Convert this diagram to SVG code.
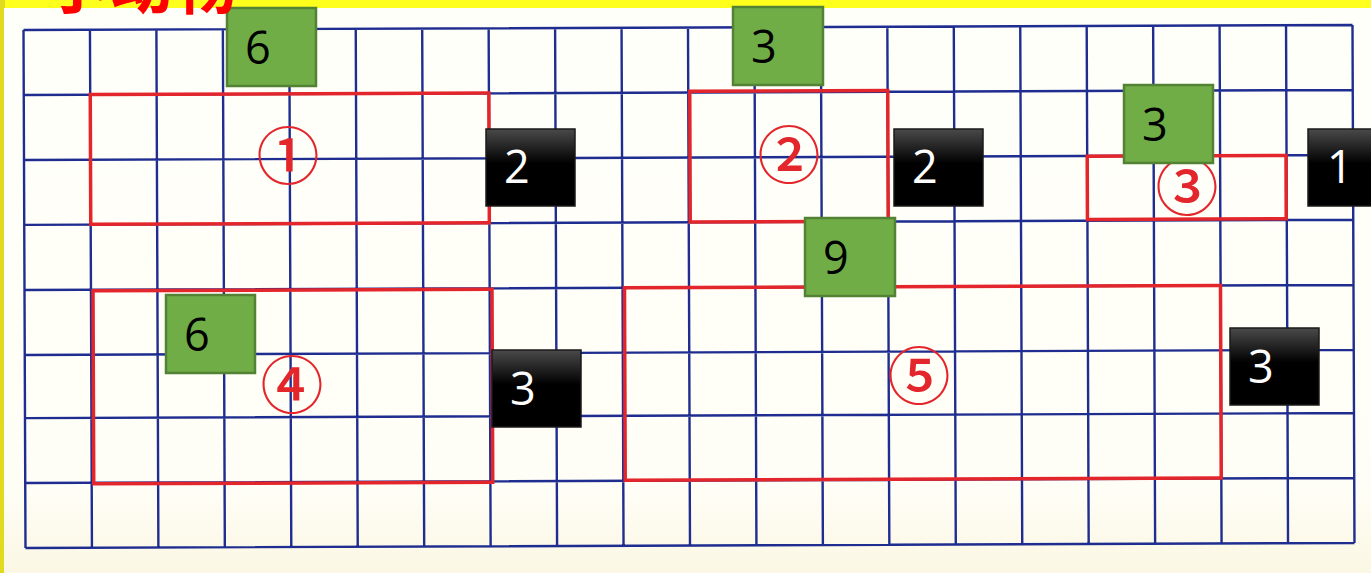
<svg xmlns="http://www.w3.org/2000/svg" width="1371" height="573" viewBox="0 0 1371 573">
  <style>
    .grid { fill: none; stroke: #1E2D8F; stroke-width: 2.4; }
    .area { fill: none; stroke: #E3262B; stroke-width: 3.5; }
    .circ { font-family: "Noto Sans CJK SC", "DejaVu Sans", sans-serif; font-size: 63px; font-weight: 500; fill: #E3262B; text-anchor: middle; }
    .g rect { fill: #70AD47; stroke: #548235; stroke-width: 2.5; }
    .b rect { fill: url(#blk); stroke: #1a1a1a; stroke-width: 1.5; }
    .g text { font-family: "Open Sans", "Liberation Sans", sans-serif; font-size: 45px; fill: #000; }
    .b text { font-family: "Open Sans", "Liberation Sans", sans-serif; font-size: 45px; fill: #fff; }
    .title { font-family: "Noto Sans CJK SC", sans-serif; font-size: 64px; font-weight: bold; fill: #FF0000; }
  </style>
  <defs>
    <linearGradient id="blk" x1="0" y1="0" x2="0" y2="1">
      <stop offset="0" stop-color="#4a4a4a"/>
      <stop offset="0.45" stop-color="#000"/>
      <stop offset="1" stop-color="#000"/>
    </linearGradient>
    <linearGradient id="paper" x1="0" y1="0" x2="0" y2="1">
      <stop offset="0" stop-color="#FFFFFA"/>
      <stop offset="0.85" stop-color="#FFFEF6"/>
      <stop offset="1" stop-color="#FBF7E4"/>
    </linearGradient>
  </defs>

  <!-- background -->
  <rect x="0" y="0" width="1371" height="573" fill="#FFFF1E"/>
  <rect x="0" y="0" width="5" height="573" fill="#E2DA1E"/>
  <rect x="4" y="8" width="1367" height="565" fill="url(#paper)"/>

  <!-- paper: grid and areas (slightly rotated scan) -->
  <g id="paper-grid" transform="rotate(-0.22 688 289)">
    <path class="grid" d="M24.5 27.5V545.5 M90.95 27.5V545.5 M157.4 27.5V545.5 M223.85 27.5V545.5 M290.3 27.5V545.5 M356.75 27.5V545.5 M423.2 27.5V545.5 M489.65 27.5V545.5 M556.1 27.5V545.5 M622.55 27.5V545.5 M689 27.5V545.5 M755.45 27.5V545.5 M821.9 27.5V545.5 M888.35 27.5V545.5 M954.8 27.5V545.5 M1021.25 27.5V545.5 M1087.7 27.5V545.5 M1154.15 27.5V545.5 M1220.6 27.5V545.5 M1287.05 27.5V545.5 M1353.5 27.5V545.5 M24.5 27.5H1353.5 M24.5 92.5H1353.5 M24.5 157.5H1353.5 M24.5 222.3H1353.5 M24.5 287.5H1353.5 M24.5 352.4H1353.5 M24.5 415.6H1353.5 M24.5 480.5H1353.5 M24.5 545.5H1353.5"/>
    <rect id="area1" class="area" x="91" y="92.3" width="398.6" height="129.7"/>
    <rect id="area2" class="area" x="690.5" y="91.3" width="198" height="130.7"/>
    <rect id="area3" class="area" x="1087.7" y="157.8" width="198.8" height="63.2"/>
    <rect id="area4" class="area" x="93" y="288.5" width="399" height="193"/>
    <rect id="area5" class="area" x="624.5" y="287.5" width="596" height="192.5"/>
  </g>

  <!-- circled numbers -->
  <g id="numbers">
    <text class="circ" x="288" y="179">①</text>
    <text class="circ" x="789" y="178">②</text>
    <text class="circ" x="1187" y="210">③</text>
    <text class="circ" x="292" y="408">④</text>
    <text class="circ" x="919" y="399">⑤</text>
  </g>

  <!-- length labels -->
  <g id="label-g1" class="g"><rect x="227" y="8" width="89" height="78"/><text x="245" y="64">6</text></g>
  <g id="label-g2" class="g"><rect x="733" y="7" width="90" height="78"/><text x="751" y="63">3</text></g>
  <g id="label-g3" class="g"><rect x="1124" y="85" width="89" height="78"/><text x="1142" y="141">3</text></g>
  <g id="label-g4" class="g"><rect x="805" y="218" width="90" height="78"/><text x="823" y="274">9</text></g>
  <g id="label-g5" class="g"><rect x="166" y="295" width="89" height="78"/><text x="184" y="351">6</text></g>

  <g id="label-b1" class="b"><rect x="486" y="129" width="89" height="77"/><text x="504" y="183">2</text></g>
  <g id="label-b2" class="b"><rect x="894" y="129" width="89" height="77"/><text x="912" y="183">2</text></g>
  <g id="label-b3" class="b"><rect x="1308" y="129" width="90" height="77"/><text x="1327" y="183">1</text></g>
  <g id="label-b4" class="b"><rect x="492" y="350" width="89" height="77"/><text x="510" y="405">3</text></g>
  <g id="label-b5" class="b"><rect x="1230" y="328" width="89" height="77"/><text x="1248" y="383">3</text></g>

  <!-- clipped title -->
  <text id="title" class="title" x="45" y="8">小动物</text>
</svg>
